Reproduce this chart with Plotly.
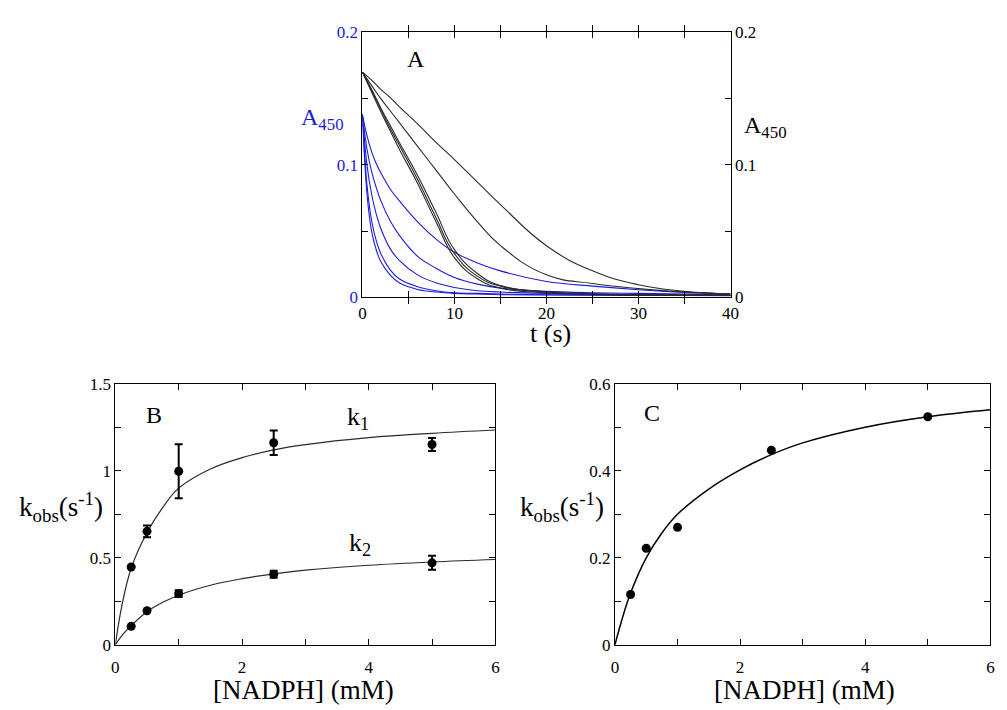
import plotly.graph_objects as go

# ---------------- Panel A: absorbance traces at 450 nm ----------------
t_black = [0, 1, 2, 3, 4, 6, 8, 10, 12.5, 15, 20, 25, 30, 35, 40]
black_1 = [0.170, 0.164, 0.157, 0.151, 0.144, 0.131, 0.117, 0.104, 0.087, 0.070, 0.039, 0.020, 0.0095, 0.0046, 0.0027]
black_2 = [0.170, 0.160, 0.150, 0.141, 0.132, 0.114, 0.096, 0.078, 0.057, 0.039, 0.0170, 0.0105, 0.0066, 0.0040, 0.0025]
black_3 = [0.170, 0.156, 0.142, 0.128, 0.115, 0.089, 0.060, 0.033, 0.016, 0.0085, 0.004, 0.0025, 0.002, 0.0018, 0.0016]
black_4 = [0.170, 0.155, 0.140, 0.126, 0.112, 0.086, 0.057, 0.030, 0.014, 0.007, 0.0035, 0.0022, 0.0018, 0.0016, 0.0015]
black_5 = [0.170, 0.157, 0.143, 0.130, 0.117, 0.092, 0.064, 0.036, 0.018, 0.009, 0.0042, 0.0027, 0.0021, 0.0018, 0.0016]

t_blue = [0, 0.5, 1, 1.5, 2, 3, 4, 6, 8, 10, 12.5, 15, 20, 25, 30, 35, 40]
blue_1 = [0.138, 0.122, 0.110, 0.101, 0.094, 0.082, 0.073, 0.057, 0.044, 0.034, 0.026, 0.020, 0.012, 0.0085, 0.0058, 0.0038, 0.0025]
blue_2 = [0.138, 0.112, 0.095, 0.083, 0.073, 0.058, 0.047, 0.031, 0.022, 0.015, 0.010, 0.007, 0.0045, 0.0035, 0.003, 0.0025, 0.002]
blue_3 = [0.138, 0.100, 0.078, 0.063, 0.052, 0.037, 0.028, 0.017, 0.011, 0.0075, 0.005, 0.004, 0.003, 0.0025, 0.002, 0.002, 0.0018]
blue_4 = [0.138, 0.085, 0.058, 0.043, 0.033, 0.021, 0.014, 0.008, 0.005, 0.0035, 0.003, 0.0025, 0.002, 0.0018, 0.0016, 0.0015, 0.0014]
blue_5 = [0.138, 0.078, 0.050, 0.036, 0.027, 0.017, 0.011, 0.006, 0.004, 0.003, 0.0025, 0.002, 0.0018, 0.0016, 0.0015, 0.0014, 0.0013]

# ---------------- Panels B and C: observed rate constants ----------------
nadph = [0.25, 0.5, 1, 2.5, 5]
k1 = [0.447, 0.652, 0.997, 1.161, 1.151]
k1_err = [0, 0.034, 0.155, 0.07, 0.037]
k2 = [0.106, 0.196, 0.294, 0.406, 0.471]
k2_err = [0, 0, 0.02, 0.02, 0.04]
k_c = [0.1155, 0.222, 0.270, 0.447, 0.524]

fit_x = [0, 0.1, 0.25, 0.5, 0.75, 1, 1.5, 2, 2.5, 3, 4, 5, 6]
k1_fit = [0, 0.22, 0.44, 0.645, 0.79, 0.90, 1.01, 1.075, 1.12, 1.15, 1.19, 1.215, 1.234]
k2_fit = [0, 0.052, 0.11, 0.19, 0.244, 0.285, 0.342, 0.38, 0.408, 0.429, 0.457, 0.476, 0.49]
c_fit = [0, 0.052, 0.119, 0.200, 0.257, 0.300, 0.358, 0.402, 0.437, 0.464, 0.500, 0.524, 0.540]

# tick labels
a_x_ticks = [0, 5, 10, 15, 20, 25, 30, 35, 40]
a_x_text = ["0", "", "10", "", "20", "", "30", "", "40"]
a_y_ticks = [0, 0.05, 0.1, 0.15, 0.2]
a_y_text = ["0", "", "0.1", "", "0.2"]
bc_x_ticks = [0, 1, 2, 3, 4, 5, 6]
bc_x_text = ["0", "", "2", "", "4", "", "6"]
b_y_ticks = [0, 0.25, 0.5, 0.75, 1, 1.25, 1.5]
b_y_text = ["0", "", "0.5", "", "1", "", "1.5"]
c_y_ticks = [0, 0.1, 0.2, 0.3, 0.4, 0.5, 0.6]
c_y_text = ["0", "", "0.2", "", "0.4", "", "0.6"]

W, H = 1007, 710
FONT = "'Liberation Serif', 'Times New Roman', 'DejaVu Serif', serif"
BLUE = "#1c1cdc"
BLACK_LINE = "#2b2b2b"


def fx(px):
    return px / W


def fy(py):
    return 1 - py / H


fig = go.Figure()

for ys in (black_1, black_2, black_3, black_4, black_5):
    fig.add_trace(go.Scatter(x=t_black, y=ys, mode="lines", xaxis="x", yaxis="y2",
                             line=dict(color=BLACK_LINE, width=1.1, shape="spline", smoothing=1.3),
                             showlegend=False))
for ys in (blue_1, blue_2, blue_3, blue_4, blue_5):
    fig.add_trace(go.Scatter(x=t_blue, y=ys, mode="lines", xaxis="x", yaxis="y",
                             line=dict(color=BLUE, width=1.1, shape="spline", smoothing=1.0),
                             showlegend=False))

# Panel B
for fit_vals in (k1_fit, k2_fit):
    fig.add_trace(go.Scatter(x=fit_x, y=fit_vals, mode="lines", xaxis="x2", yaxis="y3",
                             line=dict(color=BLACK_LINE, width=1.2, shape="spline", smoothing=1.1),
                             showlegend=False))
for vals, errs in ((k1, k1_err), (k2, k2_err)):
    fig.add_trace(go.Scatter(x=nadph, y=vals, mode="markers", xaxis="x2", yaxis="y3",
                             marker=dict(color="black", size=9),
                             error_y=dict(type="data", array=errs, color="black", thickness=2, width=4),
                             showlegend=False))

# Panel C
fig.add_trace(go.Scatter(x=fit_x, y=c_fit, mode="lines", xaxis="x3", yaxis="y4",
                         line=dict(color="black", width=1.5, shape="spline", smoothing=1.1),
                         showlegend=False))
fig.add_trace(go.Scatter(x=nadph, y=k_c, mode="markers", xaxis="x3", yaxis="y4",
                         marker=dict(color="black", size=9), showlegend=False))

tick_font = dict(family=FONT, size=17, color="black")
common = dict(showgrid=False, zeroline=False, showline=True, linecolor="black", linewidth=1,
              ticks="inside", ticklen=6, tickwidth=1, tickcolor="black", tickfont=tick_font)

dom_a_x = [fx(362.7), fx(735.3)]
dom_a_y = [fy(296.3), fy(24)]
dom_b_x = [fx(112.7), fx(497.3)]
dom_c_x = [fx(618.3), fx(998.3)]
dom_bc_y = [fy(653.3), fy(385)]

fig.update_layout(
    width=W, height=H, margin=dict(l=0, r=0, t=0, b=0),
    paper_bgcolor="white", plot_bgcolor="white",
    font=dict(family=FONT, color="black"),
    xaxis=dict(domain=dom_a_x, anchor="y", range=[0, 40], tickvals=a_x_ticks, ticktext=a_x_text,
               mirror="allticks", ticklabelstandoff=0, **common),
    yaxis=dict(domain=dom_a_y, anchor="x", range=[0, 0.2], tickvals=a_y_ticks, ticktext=a_y_text,
               **{**common, "tickfont": dict(family=FONT, size=17, color=BLUE)}),
    yaxis2=dict(domain=dom_a_y, anchor="x", overlaying="y", side="right", range=[0, 0.2],
                tickvals=a_y_ticks, ticktext=a_y_text, **common),
    xaxis2=dict(domain=dom_b_x, anchor="y3", range=[0, 6], tickvals=bc_x_ticks, ticktext=bc_x_text,
                mirror="allticks", ticklabelstandoff=7, **common),
    yaxis3=dict(domain=dom_bc_y, anchor="x2", range=[0, 1.5], tickvals=b_y_ticks, ticktext=b_y_text,
                mirror="allticks", **common),
    xaxis3=dict(domain=dom_c_x, anchor="y4", range=[0, 6], tickvals=bc_x_ticks, ticktext=bc_x_text,
                mirror="allticks", ticklabelstandoff=7, **common),
    yaxis4=dict(domain=dom_bc_y, anchor="x3", range=[0, 0.6], tickvals=c_y_ticks, ticktext=c_y_text,
                mirror="allticks", **common),
)


def label(text, x, y, size, color="black", xanchor="center", yanchor="middle"):
    fig.add_annotation(text=text, x=fx(x), y=fy(y), xref="paper", yref="paper",
                       showarrow=False, xanchor=xanchor, yanchor=yanchor,
                       font=dict(family=FONT, size=size, color=color))


# Panel A labels
label("A", 416.7, 51.7, 24)
label("A<sub>450</sub>", 299, 113, 24, color=BLUE, xanchor="left")
label("A<sub>450</sub>", 747, 121, 24, xanchor="left")
label("t (s)", 553, 333, 26)

# Panel B labels
label("B", 151.7, 416.7, 24)
label("k<sub>1</sub>", 358, 420, 26)
label("k<sub>2</sub>", 360, 550, 26)
label("k<sub>obs</sub>(s<sup>-1</sup>)", 58, 512, 27)
label("[NADPH] (mM)", 303, 700, 27)

# Panel C labels
label("C", 656, 415, 24)
label("k<sub>obs</sub>(s<sup>-1</sup>)", 565, 512, 27)
label("[NADPH] (mM)", 810, 700, 27)

fig.write_html("out.html")
